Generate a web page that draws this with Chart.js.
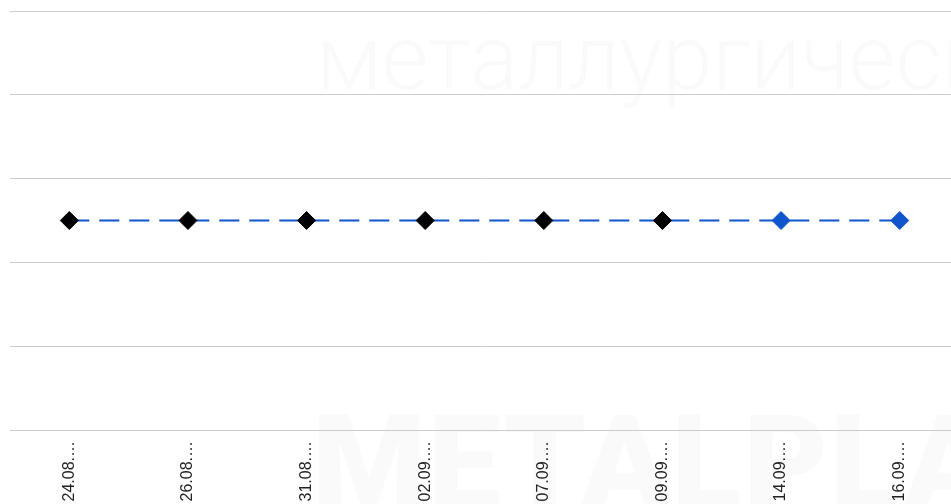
<!DOCTYPE html>
<html>
<head>
    <title>Цена</title>
    <script src="https://cdn.jsdelivr.net/npm/chart.js"></script>
    <style>
        html, body {
            margin: 0;
            padding: 0;
            background: #ffffff;
            overflow: hidden;
        }
        .wrap {
            position: relative;
            width: 969px;
            height: 504px;
        }
        .wm {
            position: absolute;
            font-family: Roboto, "Liberation Sans", sans-serif;
            color: #fafafa;
            white-space: nowrap;
            z-index: 0;
        }
        .wm1 { left: 316px; top: 6px; font-size: 90px; font-weight: 300; }
        .wm2 { left: 312px; top: 386px; font-size: 130px; font-weight: 900; letter-spacing: 2px; }
        canvas { position: relative; z-index: 1; }
    </style>
</head>
<body>
    <div class="wrap">
        <div class="wm wm1">металлургический</div>
        <div class="wm wm2">METALPLANT</div>
        <canvas id="lineChart" width="969" height="504"></canvas>
    </div>

    <script>
        // data
        const dates = ['24.08.…', '26.08.…', '31.08.…', '02.09.…', '07.09.…', '09.09.…', '14.09.…', '16.09.…'];
        const prices = [2.5, 2.5, 2.5, 2.5, 2.5, 2.5, 2.5, 2.5];
        const forecastFrom = 6; // last points are drawn blue
        const yMin = 0;
        const yMax = 5;
        const yStep = 1;

        const blue = '#1155cc';
        const pointColors = dates.map((d, i) => i >= forecastFrom ? blue : '#000000');

        const ctx = document.getElementById('lineChart').getContext('2d');
        new Chart(ctx, {
            type: 'line',
            data: {
                labels: dates,
                datasets: [{
                    data: prices,
                    borderColor: blue,
                    borderWidth: 2,
                    borderDash: [20, 10],
                    pointStyle: 'rectRot',
                    pointRadius: 9,
                    pointHoverRadius: 9,
                    pointBorderWidth: 1,
                    pointBackgroundColor: pointColors,
                    pointBorderColor: pointColors,
                    tension: 0
                }]
            },
            options: {
                responsive: false,
                animation: false,
                layout: {
                    padding: { left: 9, right: 0, top: 11, bottom: 0 }
                },
                plugins: {
                    legend: { display: false },
                    tooltip: { enabled: false },
                    title: { display: false }
                },
                scales: {
                    x: {
                        offset: true,
                        grid: { display: false },
                        border: { display: false },
                        ticks: {
                            autoSkip: false,
                            minRotation: 90,
                            maxRotation: 90,
                            padding: 3,
                            color: '#222222',
                            font: { family: 'Arial, "Liberation Sans"', size: 16 }
                        },
                        afterFit: function(scale) {
                            scale.height = 74;
                        }
                    },
                    y: {
                        min: yMin,
                        max: yMax,
                        border: { display: false },
                        grid: {
                            color: '#cccccc',
                            lineWidth: 1,
                            drawTicks: false
                        },
                        ticks: {
                            display: false,
                            stepSize: yStep
                        },
                        afterFit: function(scale) {
                            scale.width = 0;
                        }
                    }
                }
            }
        });
    </script>
</body>
</html>
